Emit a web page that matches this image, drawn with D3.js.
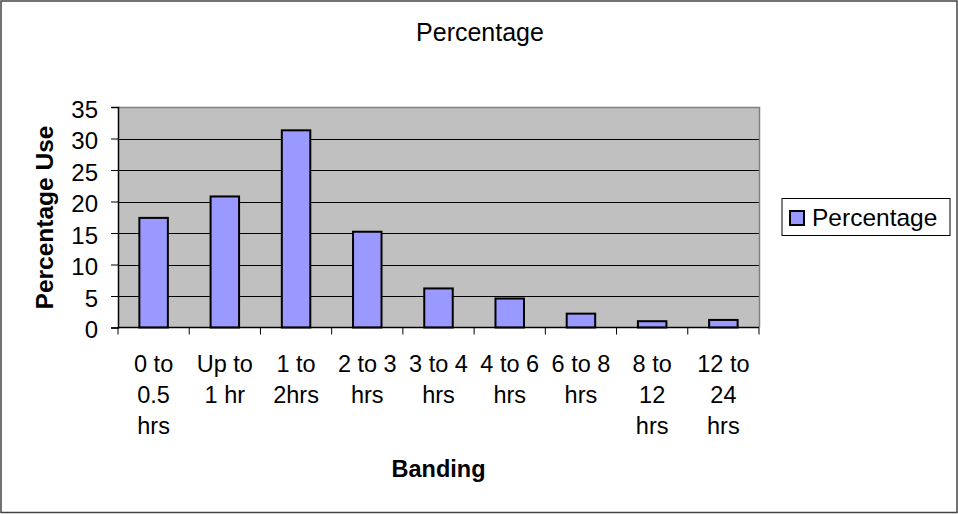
<!DOCTYPE html>
<html>
<head>
<meta charset="utf-8">
<script src="https://cdn.jsdelivr.net/npm/d3@7"></script>
<style>
  html, body { margin: 0; padding: 0; background: #fff; }
  svg { display: block; font-family: "Liberation Sans", Arial, sans-serif; }
</style>
</head>
<body>
<svg id="chart" width="958" height="514"></svg>
<script>
// Usage banding and share of use (%)
const categories = [
  ["0 to", "0.5", "hrs"],
  ["Up to", "1 hr"],
  ["1 to", "2hrs"],
  ["2 to 3", "hrs"],
  ["3 to 4", "hrs"],
  ["4 to 6", "hrs"],
  ["6 to 8", "hrs"],
  ["8 to", "12", "hrs"],
  ["12 to", "24", "hrs"]
];
const percentage = [17.4, 20.8, 31.3, 15.2, 6.2, 4.6, 2.2, 1.0, 1.2];
const yTicks = [0, 5, 10, 15, 20, 25, 30, 35];
const seriesName = "Percentage";

const svg = d3.select("#chart");
const W = 958, H = 514;
const plot = { left: 118, right: 759, top: 107, bottom: 327.5 };

// outer frame
svg.append("rect")
  .attr("x", 1).attr("y", 1).attr("width", W - 2).attr("height", H - 2.5)
  .attr("fill", "#fff").attr("stroke", "#444").attr("stroke-width", 1.5);

const x = d3.scaleBand()
  .domain(d3.range(categories.length))
  .range([plot.left, plot.right])
  .paddingInner(0).paddingOuter(0);

const y = d3.scaleLinear().domain([0, 35]).range([plot.bottom, plot.top]);

// plot background
svg.append("rect")
  .attr("x", plot.left).attr("y", plot.top)
  .attr("width", plot.right - plot.left).attr("height", plot.bottom - plot.top)
  .attr("fill", "#C0C0C0");

// horizontal gridlines
svg.append("g").selectAll("line")
  .data(yTicks.filter(t => t > 0 && t < 35))
  .join("line")
  .attr("x1", plot.left).attr("x2", plot.right)
  .attr("y1", d => Math.round(y(d)) + 0.5).attr("y2", d => Math.round(y(d)) + 0.5)
  .attr("stroke", "#000").attr("stroke-width", 1);

// plot border top / right
svg.append("path")
  .attr("d", `M${plot.left},${plot.top + 0.5}H${plot.right + 0.5}V${plot.bottom}`)
  .attr("fill", "none").attr("stroke", "#808080").attr("stroke-width", 1.5);

// bars (gap width 150%)
const barW = x.bandwidth() / 2.5;
svg.append("g").selectAll("rect")
  .data(percentage)
  .join("rect")
  .attr("x", (d, i) => x(i) + (x.bandwidth() - barW) / 2)
  .attr("y", d => y(d))
  .attr("width", barW)
  .attr("height", d => y(0) - y(d))
  .attr("fill", "#9999FF")
  .attr("stroke", "#000").attr("stroke-width", 2);

// y axis
const yAxis = d3.axisLeft(y).tickValues(yTicks).tickSize(7).tickPadding(13);
const gy = svg.append("g").attr("transform", `translate(${plot.left},0)`).call(yAxis);
gy.select(".domain").attr("stroke", "#000").attr("stroke-width", 1.5);
gy.selectAll(".tick line").attr("stroke", "#000");
gy.selectAll(".tick text")
  .attr("font-size", 24).attr("fill", "#000")
  .attr("dy", "0.42em")
  .attr("font-family", "Liberation Sans, Arial, sans-serif");

// x axis with boundary ticks
const gx = svg.append("g");
gx.append("line")
  .attr("x1", plot.left).attr("x2", plot.right)
  .attr("y1", plot.bottom).attr("y2", plot.bottom)
  .attr("stroke", "#000").attr("stroke-width", 1.5);
gx.selectAll("line.tk")
  .data(d3.range(categories.length + 1))
  .join("line").attr("class", "tk")
  .attr("x1", i => (i < categories.length ? x(i) : plot.right))
  .attr("x2", i => (i < categories.length ? x(i) : plot.right))
  .attr("y1", plot.bottom).attr("y2", plot.bottom + 7)
  .attr("stroke", "#000");

// category labels
const lab = svg.append("g")
  .attr("font-size", 23.5).attr("text-anchor", "middle").attr("fill", "#000");
categories.forEach((lines, i) => {
  const t = lab.append("text")
    .attr("x", x(i) + x.bandwidth() / 2)
    .attr("y", 371.5);
  lines.forEach((ln, k) => {
    t.append("tspan")
      .attr("x", x(i) + x.bandwidth() / 2)
      .attr("dy", k === 0 ? 0 : 31.4)
      .text(ln);
  });
});

// titles
svg.append("text")
  .attr("x", 480).attr("y", 41)
  .attr("text-anchor", "middle").attr("font-size", 25)
  .text("Percentage");

svg.append("text")
  .attr("x", (plot.left + plot.right) / 2).attr("y", 476.5)
  .attr("text-anchor", "middle").attr("font-size", 23.5).attr("font-weight", "bold")
  .text("Banding");

svg.append("text")
  .attr("transform", "translate(53,217.5) rotate(-90)")
  .attr("text-anchor", "middle").attr("font-size", 24.5).attr("font-weight", "bold")
  .text("Percentage Use");

// legend
const lg = svg.append("g");
lg.append("rect")
  .attr("x", 782).attr("y", 198.5).attr("width", 168).attr("height", 37)
  .attr("fill", "#fff").attr("stroke", "#000").attr("stroke-width", 1);
lg.append("rect")
  .attr("x", 790).attr("y", 211).attr("width", 14).attr("height", 14)
  .attr("fill", "#9999FF").attr("stroke", "#000").attr("stroke-width", 2);
lg.append("text")
  .attr("x", 812).attr("y", 225.5)
  .attr("font-size", 24.5)
  .text(seriesName);
</script>
</body>
</html>
